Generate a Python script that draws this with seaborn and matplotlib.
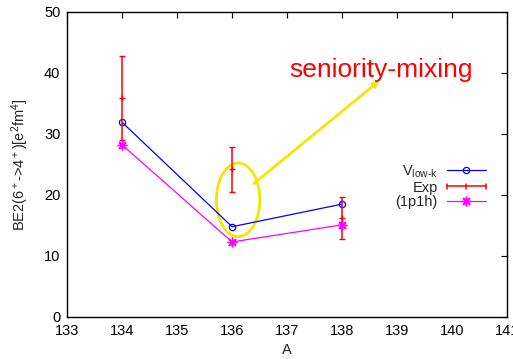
import matplotlib
matplotlib.use("Agg")
import matplotlib.pyplot as plt
import seaborn as sns
import pandas as pd
from matplotlib.lines import Line2D
from matplotlib.patches import Ellipse
from matplotlib.legend_handler import HandlerBase

# ---- data ----
A = [134, 136, 138]
vlowk = [31.9, 14.8, 18.5]
p1h = [28.2, 12.3, 15.1]
exp_val = [35.9, 24.2, 16.2]
exp_err = [6.9, 3.7, 3.4]
xticks = [133, 134, 135, 136, 137, 138, 139, 140, 141]
yticks = [0, 10, 20, 30, 40, 50]

sns.set_style("white")
plt.rcParams['font.family'] = ['Liberation Sans', 'DejaVu Sans']
plt.rcParams['mathtext.fontset'] = 'custom'
plt.rcParams['mathtext.rm'] = 'Liberation Sans'
plt.rcParams['mathtext.it'] = 'Liberation Sans'

fig = plt.figure(figsize=(5.13, 3.59), dpi=100)
ax = fig.add_axes([0.1312, 0.117, 0.8564, 0.8496])

df_v = pd.DataFrame({"A": A, "BE2": vlowk})
df_p = pd.DataFrame({"A": A, "BE2": p1h})

sns.lineplot(data=df_v, x="A", y="BE2", ax=ax, color="blue", lw=0.9,
             marker="o", markersize=4.5, markerfacecolor="none",
             markeredgecolor="blue", markeredgewidth=0.9, label=r"V$_{\rm low\text{-}k}$")
eb = ax.errorbar(A, exp_val, yerr=exp_err, fmt="+", color="red", ecolor="red",
                 elinewidth=1.1, capsize=2.5, capthick=1.1, markersize=5,
                 markeredgewidth=1.0, label="Exp")
sns.lineplot(data=df_p, x="A", y="BE2", ax=ax, color="magenta", lw=0.9,
             marker=(8, 2, 0), markersize=7, markeredgecolor="magenta",
             markeredgewidth=1.0, label="(1p1h)")

ax.set_xlim(133, 141)
ax.set_ylim(0, 50)
ax.set_xticks(xticks)
ax.set_yticks(yticks)
ax.tick_params(direction="in", length=4, width=0.8, labelsize=10.5,
               top=True, right=True, pad=5, colors="black")
for s in ax.spines.values():
    s.set_visible(True)
    s.set_color("black")
    s.set_linewidth(1.0)
ax.set_xlabel("A", fontsize=10.5, labelpad=4)
ax.set_ylabel(r"BE2(6$^+$->4$^+$)[e$^2$fm$^4$]", fontsize=10.5, labelpad=9)

# annotations
ell = Ellipse((136.11, 19.2), 0.79, 12.1, fill=False, edgecolor="#f0e800", lw=2)
ax.add_patch(ell)
ax.annotate("", xy=(138.68, 38.7), xytext=(136.40, 21.9),
            arrowprops=dict(arrowstyle="->", color="#f0e800", lw=2,
                            shrinkA=0, shrinkB=0, mutation_scale=8))
ax.text(137.04, 39.3, "seniority-mixing", color="red", fontsize=19, ha="left", va="baseline")


class HandlerHErr(HandlerBase):
    def create_artists(self, legend, orig_handle, xdescent, ydescent, width,
                       height, fontsize, trans):
        y = height / 2 - ydescent
        x0 = -xdescent
        x1 = x0 + width
        h = height * 0.28
        arts = [Line2D([x0, x1], [y, y], color="red", lw=1.1)]
        for x in (x0, (x0 + x1) / 2, x1):
            arts.append(Line2D([x, x], [y - h, y + h], color="red", lw=1.1))
        for a in arts:
            a.set_transform(trans)
        return arts


handles, labels = ax.get_legend_handles_labels()
order = [labels.index(l) for l in [r"V$_{\rm low\text{-}k}$", "Exp", "(1p1h)"]]
handles = [handles[i] for i in order]
labels = [labels[i] for i in order]
leg = ax.legend(handles, labels, loc="upper right", bbox_to_anchor=(0.976, 0.537),
                frameon=False, markerfirst=False, fontsize=10.5,
                handlelength=2.7, handletextpad=0.6, labelspacing=0.05,
                borderpad=0.2, handler_map={eb: HandlerHErr()})

fig.savefig("out.png", dpi=100)
